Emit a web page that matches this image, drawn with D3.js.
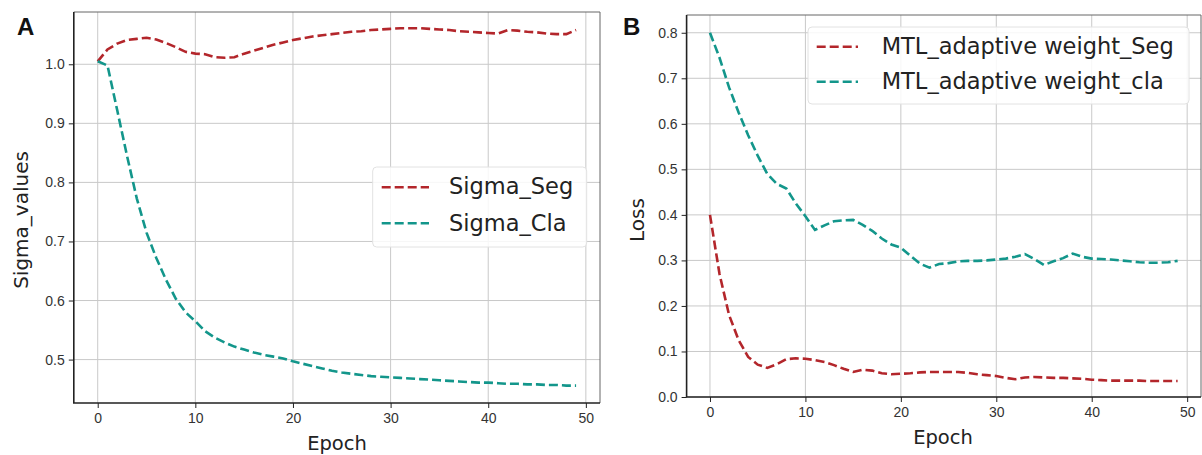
<!DOCTYPE html>
<html>
<head>
<meta charset="utf-8">
<script src="https://cdn.jsdelivr.net/npm/d3@7/dist/d3.min.js"></script>
<style>
  body { margin: 0; background: #fff; }
  svg { display: block; font-family: "DejaVu Sans", sans-serif; }
  .grid line { stroke: #c9c9c9; stroke-width: 1; }
  .axis text { fill: #333; font-size: 14px; }
  .axis path, .axis line { stroke: #222; }
</style>
</head>
<body>
<script>
// epochs 0..49
var epochs = d3.range(0, 50);

// panel A - sigma values
var sigmaSeg = [1.005, 1.025, 1.035, 1.041, 1.043, 1.045, 1.042, 1.036, 1.029, 1.021,
  1.018, 1.017, 1.012, 1.011, 1.012, 1.018, 1.023, 1.028, 1.033, 1.037,
  1.041, 1.044, 1.047, 1.049, 1.051, 1.053, 1.055, 1.056, 1.058, 1.059,
  1.060, 1.061, 1.061, 1.061, 1.060, 1.059, 1.058, 1.056, 1.055, 1.054,
  1.053, 1.052, 1.058, 1.057, 1.055, 1.054, 1.052, 1.051, 1.051, 1.058];
var sigmaCla = [1.005, 0.998, 0.922, 0.845, 0.773, 0.715, 0.672, 0.635, 0.603, 0.580,
  0.565, 0.548, 0.537, 0.529, 0.522, 0.517, 0.512, 0.508, 0.505, 0.502,
  0.497, 0.493, 0.489, 0.485, 0.481, 0.478, 0.476, 0.474, 0.472, 0.471,
  0.470, 0.469, 0.468, 0.467, 0.466, 0.465, 0.464, 0.463, 0.462, 0.461,
  0.461, 0.460, 0.459, 0.459, 0.458, 0.458, 0.457, 0.457, 0.456, 0.456];

// panel B - loss
var lossSeg = [0.400, 0.270, 0.180, 0.125, 0.088, 0.071, 0.064, 0.072, 0.083, 0.085,
  0.084, 0.081, 0.077, 0.070, 0.062, 0.055, 0.060, 0.058, 0.052, 0.050,
  0.051, 0.052, 0.054, 0.055, 0.055, 0.055, 0.055, 0.053, 0.050, 0.048,
  0.046, 0.042, 0.039, 0.043, 0.044, 0.043, 0.042, 0.042, 0.041, 0.040,
  0.038, 0.037, 0.036, 0.036, 0.036, 0.036, 0.035, 0.035, 0.035, 0.035];
var lossCla = [0.800, 0.745, 0.680, 0.625, 0.575, 0.530, 0.490, 0.468, 0.458, 0.425,
  0.397, 0.367, 0.377, 0.386, 0.388, 0.389, 0.378, 0.365, 0.348, 0.335,
  0.328, 0.310, 0.293, 0.284, 0.292, 0.294, 0.298, 0.299, 0.299, 0.300,
  0.302, 0.304, 0.308, 0.314, 0.303, 0.290, 0.298, 0.305, 0.315, 0.308,
  0.304, 0.303, 0.302, 0.300, 0.298, 0.296, 0.295, 0.295, 0.296, 0.299];

var xTicks = [0, 10, 20, 30, 40, 50];
var yTicksA = [0.5, 0.6, 0.7, 0.8, 0.9, 1.0];
var yTicksB = [0.0, 0.1, 0.2, 0.3, 0.4, 0.5, 0.6, 0.7, 0.8];

var red = "#b3262b", teal = "#13968b";

var svg = d3.select("body").append("svg")
  .attr("width", 1202)
  .attr("height", 455);

function drawPanel(p) {
  var x = d3.scaleLinear().domain([-2.45, 51.45]).range([p.left, p.right]);
  var y = d3.scaleLinear().domain(p.yDomain).range([p.bottom, p.top]);
  var g = svg.append("g");

  // grid
  var grid = g.append("g").attr("class", "grid");
  grid.selectAll(".gx").data(xTicks).enter().append("line")
    .attr("x1", function(d) { return x(d); }).attr("x2", function(d) { return x(d); })
    .attr("y1", p.top).attr("y2", p.bottom);
  grid.selectAll(".gy").data(p.yTicks).enter().append("line")
    .attr("x1", p.left).attr("x2", p.right)
    .attr("y1", function(d) { return y(d); }).attr("y2", function(d) { return y(d); });

  // lines
  var line = d3.line()
    .x(function(d, i) { return x(epochs[i]); })
    .y(function(d) { return y(d); });
  p.series.forEach(function(s) {
    g.append("path")
      .attr("d", line(s.values))
      .attr("fill", "none")
      .attr("stroke", s.color)
      .attr("stroke-width", 2.6)
      .attr("stroke-dasharray", "9,4");
  });

  // frame: top/right lighter, left/bottom dark
  g.append("path")
    .attr("d", "M" + p.left + "," + p.top + "H" + p.right + "V" + p.bottom)
    .attr("fill", "none").attr("stroke", "#666").attr("stroke-width", 1);
  g.append("path")
    .attr("d", "M" + p.left + "," + p.top + "V" + p.bottom + "H" + p.right)
    .attr("fill", "none").attr("stroke", "#222").attr("stroke-width", 1.6);

  // axes
  g.append("g").attr("class", "axis")
    .attr("transform", "translate(0," + p.bottom + ")")
    .call(d3.axisBottom(x).tickValues(xTicks).tickSize(5).tickPadding(5).tickFormat(d3.format("d")))
    .call(function(a) { a.select(".domain").remove(); });
  g.append("g").attr("class", "axis")
    .attr("transform", "translate(" + p.left + ",0)")
    .call(d3.axisLeft(y).tickValues(p.yTicks).tickSize(5).tickPadding(4).tickFormat(d3.format(".1f")))
    .call(function(a) { a.select(".domain").remove(); });

  // axis titles
  g.append("text")
    .attr("x", p.xLabelX).attr("y", p.xLabelY)
    .attr("text-anchor", "middle")
    .attr("font-size", 19.5).attr("fill", "#222")
    .text("Epoch");
  g.append("text")
    .attr("transform", "translate(" + p.yLabelX + "," + p.yLabelY + ") rotate(-90)")
    .attr("text-anchor", "middle")
    .attr("font-size", 20).attr("fill", "#222")
    .text(p.yLabel);

  // panel letter
  g.append("text")
    .attr("x", p.letterX).attr("y", 35)
    .attr("font-size", 24).attr("font-weight", "bold").attr("fill", "#111")
    .attr("font-family", "Liberation Sans, Arial, sans-serif")
    .text(p.letter);

  // legend
  var L = p.legend;
  g.append("rect")
    .attr("x", L.x).attr("y", L.y).attr("width", L.w).attr("height", L.h)
    .attr("rx", 4).attr("fill", "#fff").attr("fill-opacity", 0.85)
    .attr("stroke", "#e2e2e2").attr("stroke-width", 1);
  p.series.forEach(function(s, i) {
    var ly = L.lineY[i];
    g.append("line")
      .attr("x1", L.lineX0).attr("x2", L.lineX1)
      .attr("y1", ly).attr("y2", ly)
      .attr("stroke", s.color).attr("stroke-width", 2.6)
      .attr("stroke-dasharray", "9,4");
    g.append("text")
      .attr("x", L.textX).attr("y", L.textY[i])
      .attr("font-size", 22.5).attr("fill", "#222")
      .text(s.name);
  });
}

drawPanel({
  left: 73.8, right: 600, top: 12, bottom: 403,
  yDomain: [0.4265, 1.0885], yTicks: yTicksA,
  yLabel: "Sigma_values", yLabelX: 28, yLabelY: 220,
  xLabelX: 337, xLabelY: 450,
  letter: "A", letterX: 17,
  series: [
    { name: "Sigma_Seg", values: sigmaSeg, color: red },
    { name: "Sigma_Cla", values: sigmaCla, color: teal }
  ],
  legend: { x: 372.7, y: 167, w: 214, h: 80, lineX0: 381.7, lineX1: 429,
    lineY: [187.3, 223.3], textX: 449, textY: [194, 231] }
});

drawPanel({
  left: 686.6, right: 1201, top: 15, bottom: 397,
  yDomain: [0, 0.839], yTicks: yTicksB,
  yLabel: "Loss", yLabelX: 644, yLabelY: 220,
  xLabelX: 943, xLabelY: 444,
  letter: "B", letterX: 623,
  series: [
    { name: "MTL_adaptive weight_Seg", values: lossSeg, color: red },
    { name: "MTL_adaptive weight_cla", values: lossCla, color: teal }
  ],
  legend: { x: 808, y: 27, w: 381, h: 77, lineX0: 816.7, lineX1: 858,
    lineY: [46.7, 81.7], textX: 881.7, textY: [54, 89] }
});
</script>
</body>
</html>
